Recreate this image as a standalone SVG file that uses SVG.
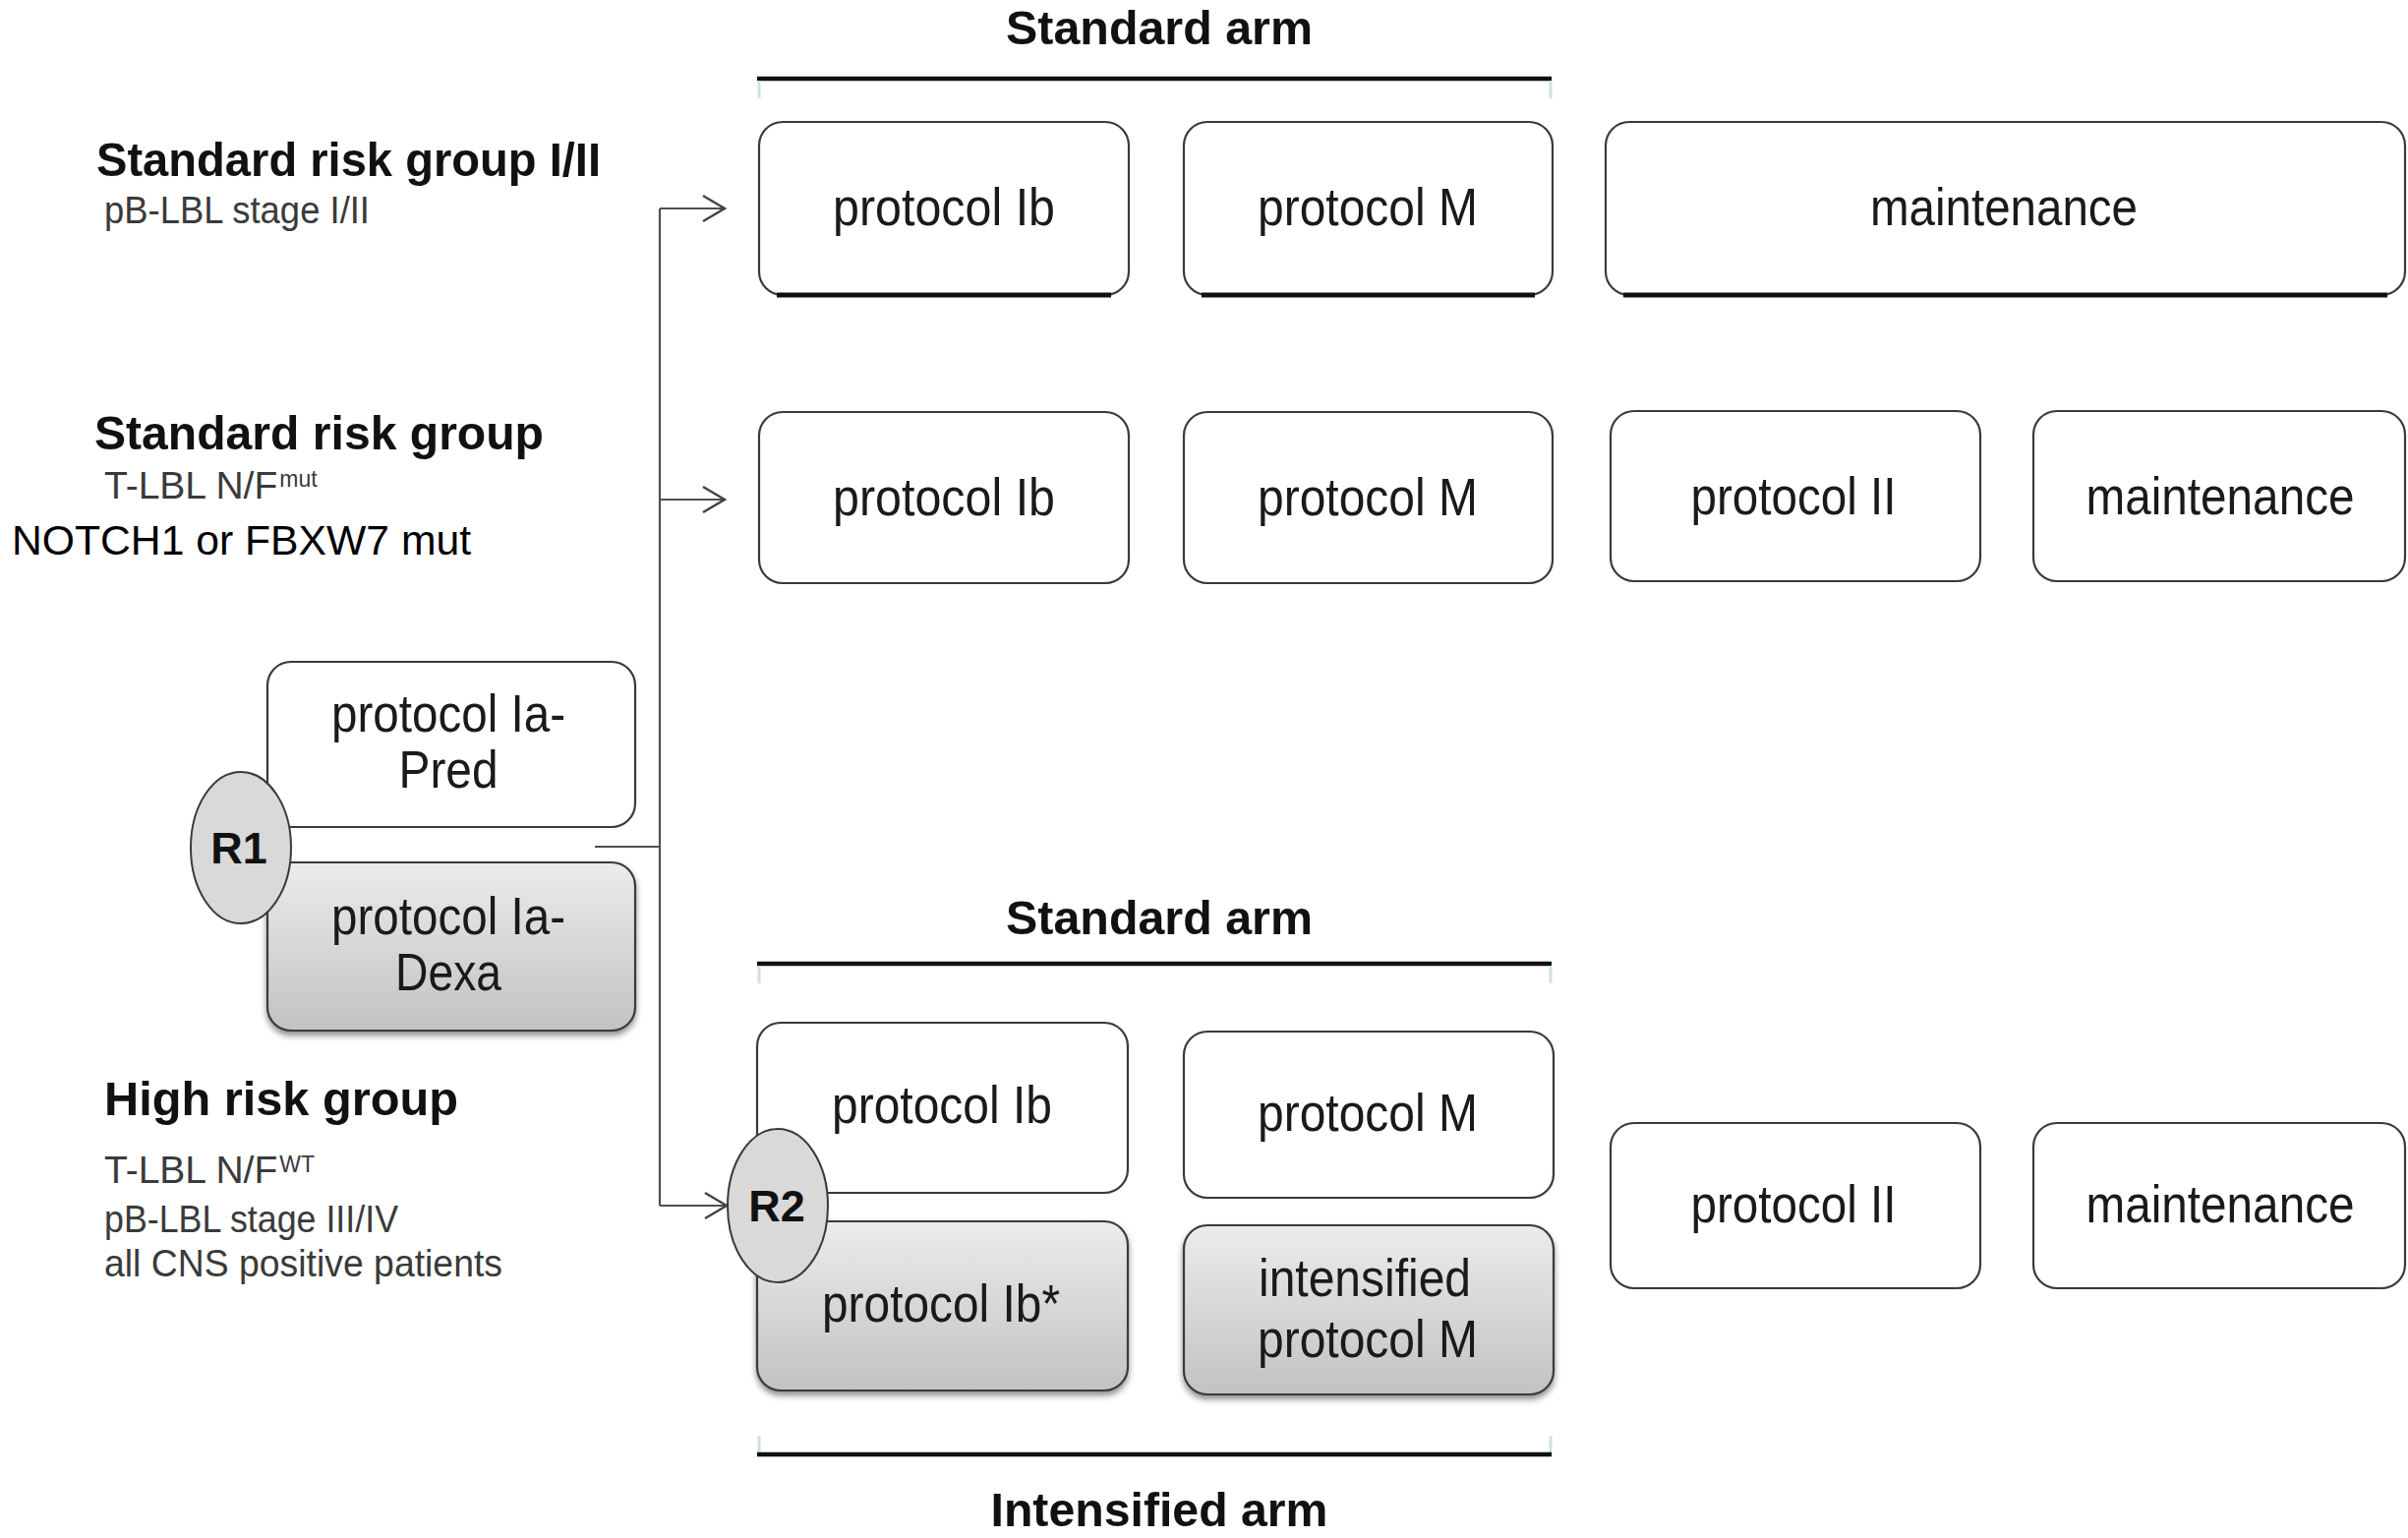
<svg xmlns="http://www.w3.org/2000/svg" width="2449" height="1564" viewBox="0 0 2449 1564">
<defs>
<linearGradient id="g" x1="0" y1="0" x2="0" y2="1">
<stop offset="0" stop-color="#ececec"/>
<stop offset="1" stop-color="#c2c2c2"/>
</linearGradient>
<filter id="sh" x="-5%" y="-5%" width="110%" height="120%">
<feDropShadow dx="0" dy="4" stdDeviation="3" flood-color="#000" flood-opacity="0.45"/>
</filter>
<marker id="arr" markerUnits="userSpaceOnUse" markerWidth="26" markerHeight="30" viewBox="0 0 26 30" refX="24" refY="15" orient="auto">
<path d="M2,2 L24,15 L2,28" fill="none" stroke="#444" stroke-width="2.5"/>
</marker>
<style>
text{font-family:"Liberation Sans",Arial,Helvetica,sans-serif}
.box{fill:#fff;stroke:#3a3a3a;stroke-width:2.2}
.gbox{fill:url(#g);stroke:#3a3a3a;stroke-width:2.2;filter:url(#sh)}
.thk{stroke:#111;stroke-width:5;fill:none}
.lbl{font-size:53px;fill:#1a1a1a;text-anchor:middle}
.hd{font-size:49px;font-weight:bold;fill:#111}
.hdc{font-size:49px;font-weight:bold;fill:#111;text-anchor:middle}
.sub{font-size:39px;fill:#3a3a3a}
.sup{font-size:23px;fill:#3a3a3a}
.ell{fill:#d9d9d9;stroke:#3a3a3a;stroke-width:2}
.rl{font-size:45px;font-weight:bold;fill:#111;text-anchor:middle}
.br{stroke:#111;stroke-width:4.5}
.tk{stroke:#cfe3dc;stroke-width:3}
.conn{stroke:#505050;stroke-width:2.2;fill:none}
</style>
</defs>
<rect width="2449" height="1564" fill="#fff"/>

<g id="headings">
<text class="hdc" x="1179" y="45" textLength="312" lengthAdjust="spacingAndGlyphs">Standard arm</text>
<path class="br" d="M770,80 H1578"/>
<path class="tk" d="M772,82 V100 M1577,82 V100"/>
<text class="hdc" x="1179" y="950" textLength="312" lengthAdjust="spacingAndGlyphs">Standard arm</text>
<path class="br" d="M770,980 H1578"/>
<path class="tk" d="M772,982 V1000 M1577,982 V1000"/>
<path class="tk" d="M772,1460 V1477 M1577,1460 V1477"/>
<path class="br" d="M770,1479 H1578"/>
<text class="hdc" x="1179" y="1552" textLength="343" lengthAdjust="spacingAndGlyphs">Intensified arm</text>
</g>

<g id="groups">
<text class="hd" x="98" y="179" textLength="513" lengthAdjust="spacingAndGlyphs">Standard risk group I/II</text>
<text class="sub" x="106" y="227" textLength="270" lengthAdjust="spacingAndGlyphs">pB-LBL  stage I/II</text>
<text class="hd" x="96" y="457" textLength="457" lengthAdjust="spacingAndGlyphs">Standard risk group</text>
<text class="sub" x="106" y="507">T-LBL N/F<tspan class="sup" dx="2" dy="-12">mut</tspan></text>
<text x="12" y="564" font-size="43" fill="#000" textLength="467" lengthAdjust="spacingAndGlyphs">NOTCH1 or FBXW7 mut</text>
<text class="hd" x="106" y="1134" textLength="360" lengthAdjust="spacingAndGlyphs">High risk group</text>
<text class="sub" x="106" y="1203">T-LBL N/F<tspan class="sup" dx="2" dy="-11">WT</tspan></text>
<text class="sub" x="106" y="1253" textLength="299" lengthAdjust="spacingAndGlyphs">pB-LBL  stage III/IV</text>
<text class="sub" x="106" y="1298" textLength="405" lengthAdjust="spacingAndGlyphs">all CNS positive  patients</text>
</g>

<g id="connectors">
<path class="conn" d="M605,861 H671"/>
<path class="conn" d="M671,212 V1226"/>
<path class="conn" d="M671,212 H737" marker-end="url(#arr)"/>
<path class="conn" d="M671,508 H737" marker-end="url(#arr)"/>
<path class="conn" d="M671,1226 H739" marker-end="url(#arr)"/>
</g>

<g id="r1-pred">
<rect class="box" x="272" y="673" width="374" height="168" rx="24"/>
<text class="lbl" x="456" y="744" textLength="238" lengthAdjust="spacingAndGlyphs">protocol Ia-</text>
<text class="lbl" x="456" y="801" textLength="101" lengthAdjust="spacingAndGlyphs">Pred</text>
</g>
<g id="r1-dexa">
<rect class="gbox" x="272" y="877" width="374" height="171" rx="24"/>
<text class="lbl" x="456" y="950" textLength="238" lengthAdjust="spacingAndGlyphs">protocol Ia-</text>
<text class="lbl" x="456" y="1007" textLength="108" lengthAdjust="spacingAndGlyphs">Dexa</text>
</g>
<g id="r1">
<ellipse class="ell" cx="245" cy="862" rx="51" ry="77"/>
<text class="rl" x="243" y="878">R1</text>
</g>

<g id="sr12-ib">
<rect class="box" x="772" y="124" width="376" height="176" rx="24"/>
<path class="thk" d="M790,300 H1130"/>
<text class="lbl" x="960" y="229" textLength="226" lengthAdjust="spacingAndGlyphs">protocol Ib</text>
</g>
<g id="sr12-m">
<rect class="box" x="1204" y="124" width="375" height="176" rx="24"/>
<path class="thk" d="M1222,300 H1561"/>
<text class="lbl" x="1391" y="229" textLength="224" lengthAdjust="spacingAndGlyphs">protocol M</text>
</g>
<g id="sr12-maint">
<rect class="box" x="1633" y="124" width="813" height="176" rx="24"/>
<path class="thk" d="M1651,300 H2428"/>
<text class="lbl" x="2038" y="229" textLength="272" lengthAdjust="spacingAndGlyphs">maintenance</text>
</g>

<g id="sr-ib">
<rect class="box" x="772" y="419" width="376" height="174" rx="24"/>
<text class="lbl" x="960" y="524" textLength="226" lengthAdjust="spacingAndGlyphs">protocol Ib</text>
</g>
<g id="sr-m">
<rect class="box" x="1204" y="419" width="375" height="174" rx="24"/>
<text class="lbl" x="1391" y="524" textLength="224" lengthAdjust="spacingAndGlyphs">protocol M</text>
</g>
<g id="sr-ii">
<rect class="box" x="1638" y="418" width="376" height="173" rx="24"/>
<text class="lbl" x="1824" y="523" textLength="209" lengthAdjust="spacingAndGlyphs">protocol II</text>
</g>
<g id="sr-maint">
<rect class="box" x="2068" y="418" width="378" height="173" rx="24"/>
<text class="lbl" x="2258" y="523" textLength="273" lengthAdjust="spacingAndGlyphs">maintenance</text>
</g>

<g id="hr-ib">
<rect class="box" x="770" y="1040" width="377" height="173" rx="24"/>
<text class="lbl" x="958" y="1142" textLength="224" lengthAdjust="spacingAndGlyphs">protocol Ib</text>
</g>
<g id="hr-ibstar">
<rect class="gbox" x="770" y="1242" width="377" height="172" rx="24"/>
<text class="lbl" x="957" y="1344" textLength="242" lengthAdjust="spacingAndGlyphs">protocol Ib*</text>
</g>
<g id="hr-m">
<rect class="box" x="1204" y="1049" width="376" height="169" rx="24"/>
<text class="lbl" x="1391" y="1150" textLength="224" lengthAdjust="spacingAndGlyphs">protocol M</text>
</g>
<g id="hr-intm">
<rect class="gbox" x="1204" y="1246" width="376" height="172" rx="24"/>
<text class="lbl" x="1388" y="1318" textLength="216" lengthAdjust="spacingAndGlyphs">intensified</text>
<text class="lbl" x="1391" y="1380" textLength="224" lengthAdjust="spacingAndGlyphs">protocol M</text>
</g>
<g id="r2">
<ellipse class="ell" cx="791" cy="1226" rx="51" ry="78"/>
<text class="rl" x="790" y="1242">R2</text>
</g>
<g id="hr-ii">
<rect class="box" x="1638" y="1142" width="376" height="168" rx="24"/>
<text class="lbl" x="1824" y="1243" textLength="209" lengthAdjust="spacingAndGlyphs">protocol II</text>
</g>
<g id="hr-maint">
<rect class="box" x="2068" y="1142" width="378" height="168" rx="24"/>
<text class="lbl" x="2258" y="1243" textLength="273" lengthAdjust="spacingAndGlyphs">maintenance</text>
</g>
</svg>
